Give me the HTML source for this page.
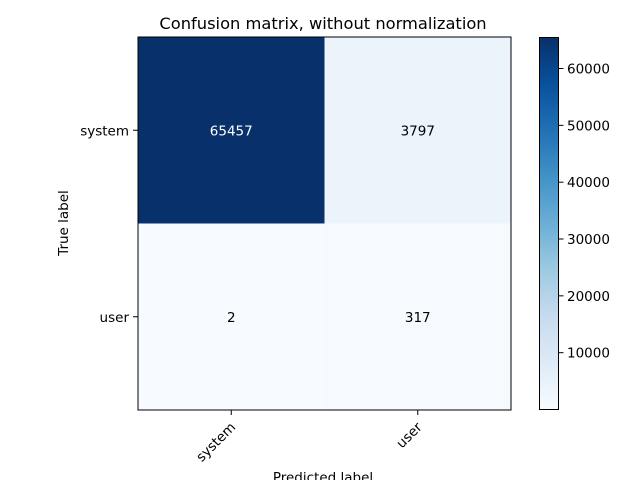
<!DOCTYPE html>
<html><head><meta charset="utf-8"><style>
body{margin:0;background:#fff;}
text{font-family:"DejaVu Sans","Liberation Sans",sans-serif;font-size:13.5px;fill:#000;}
</style></head><body>
<svg id="chart" width="640" height="480" viewBox="0 0 640 480">
<defs>
<linearGradient id="blues" x1="0" y1="1" x2="0" y2="0">
<stop offset="0" stop-color="#f7fbff"/><stop offset="0.125" stop-color="#deebf7"/>
<stop offset="0.25" stop-color="#c6dbef"/><stop offset="0.375" stop-color="#9ecae1"/>
<stop offset="0.5" stop-color="#6baed6"/><stop offset="0.625" stop-color="#4292c6"/>
<stop offset="0.75" stop-color="#2171b5"/><stop offset="0.875" stop-color="#08519c"/>
<stop offset="1" stop-color="#08306b"/>
</linearGradient>
</defs>
<text x="323" y="29" text-anchor="middle" style="font-size:16.3px">Confusion matrix, without normalization</text>
<g id="cells"></g>
<rect x="138" y="37" width="373" height="373" fill="none" stroke="#000" stroke-width="1"/>
<g id="axes"></g>
<text x="68" y="223" text-anchor="middle" transform="rotate(-90 68 223)">True label</text>
<text x="323" y="482" text-anchor="middle">Predicted label</text>
<rect x="539.5" y="37.5" width="19" height="372" fill="url(#blues)" stroke="#000" stroke-width="1"/>
<g id="cbticks"></g>
</svg>
<script>
const classes = ["system","user"];
const matrix = [[65457,3797],[2,317]];
const cbTicks = [10000,20000,30000,40000,50000,60000];
const vmin = 2, vmax = 65457;
const NS="http://www.w3.org/2000/svg";
const px0=138, py0=37, size=373, n=classes.length, cw=size/n;
const stops=[[247,251,255],[222,235,247],[198,219,239],[158,202,225],[107,174,214],[66,146,198],[33,113,181],[8,81,156],[8,48,107]];
function color(v){let t=(v-vmin)/(vmax-vmin)*8;let i=Math.min(7,Math.floor(t)),f=t-i;
 const c=stops[i].map((a,k)=>Math.round(a+(stops[i+1][k]-a)*f));return `rgb(${c})`;}
function mk(tag,attrs,parent){const e=document.createElementNS(NS,tag);for(const k in attrs)e.setAttribute(k,attrs[k]);parent.appendChild(e);return e;}
const cells=document.getElementById('cells'), axes=document.getElementById('axes'), cb=document.getElementById('cbticks');
const thresh=vmax/2;
for(let r=0;r<n;r++)for(let c=0;c<n;c++){
 const v=matrix[r][c];
 const rect=mk('rect',{x:px0+c*cw,y:py0+r*cw,width:cw,height:cw,fill:color(v)},cells);
 
 
 const t=mk('text',{x:px0+(c+0.5)*cw,y:py0+(r+0.5)*cw+5,'text-anchor':'middle',fill:(v>thresh?'#fff':'#000'),style:'fill:'+(v>thresh?'#fff':'#000')},cells);
 t.textContent=v;
 
 
}
classes.forEach((name,i)=>{
 const cx=px0+(i+0.5)*cw;
 mk('line',{x1:cx,y1:410,x2:cx,y2:415,stroke:'#000'},axes);
 const xt=mk('text',{x:cx+5,y:428,'text-anchor':'end',transform:`rotate(-45 ${cx+5} 428)`},axes);
 xt.textContent=name;
 
 
 const yy=cx-px0+py0;
 mk('line',{x1:133,y1:yy,x2:138,y2:yy,stroke:'#000'},axes);
 const yt=mk('text',{x:129,y:yy+5,'text-anchor':'end'},axes);
 yt.textContent=name;
 
 
});
cbTicks.forEach(v=>{
 const y=409.5-(v-vmin)/(vmax-vmin)*372;
 mk('line',{x1:558.5,y1:y,x2:563.5,y2:y,stroke:'#000'},cb);
 const t=mk('text',{x:567,y:y+5},cb);
 t.textContent=v;
 
 
});
</script>
</body></html>
